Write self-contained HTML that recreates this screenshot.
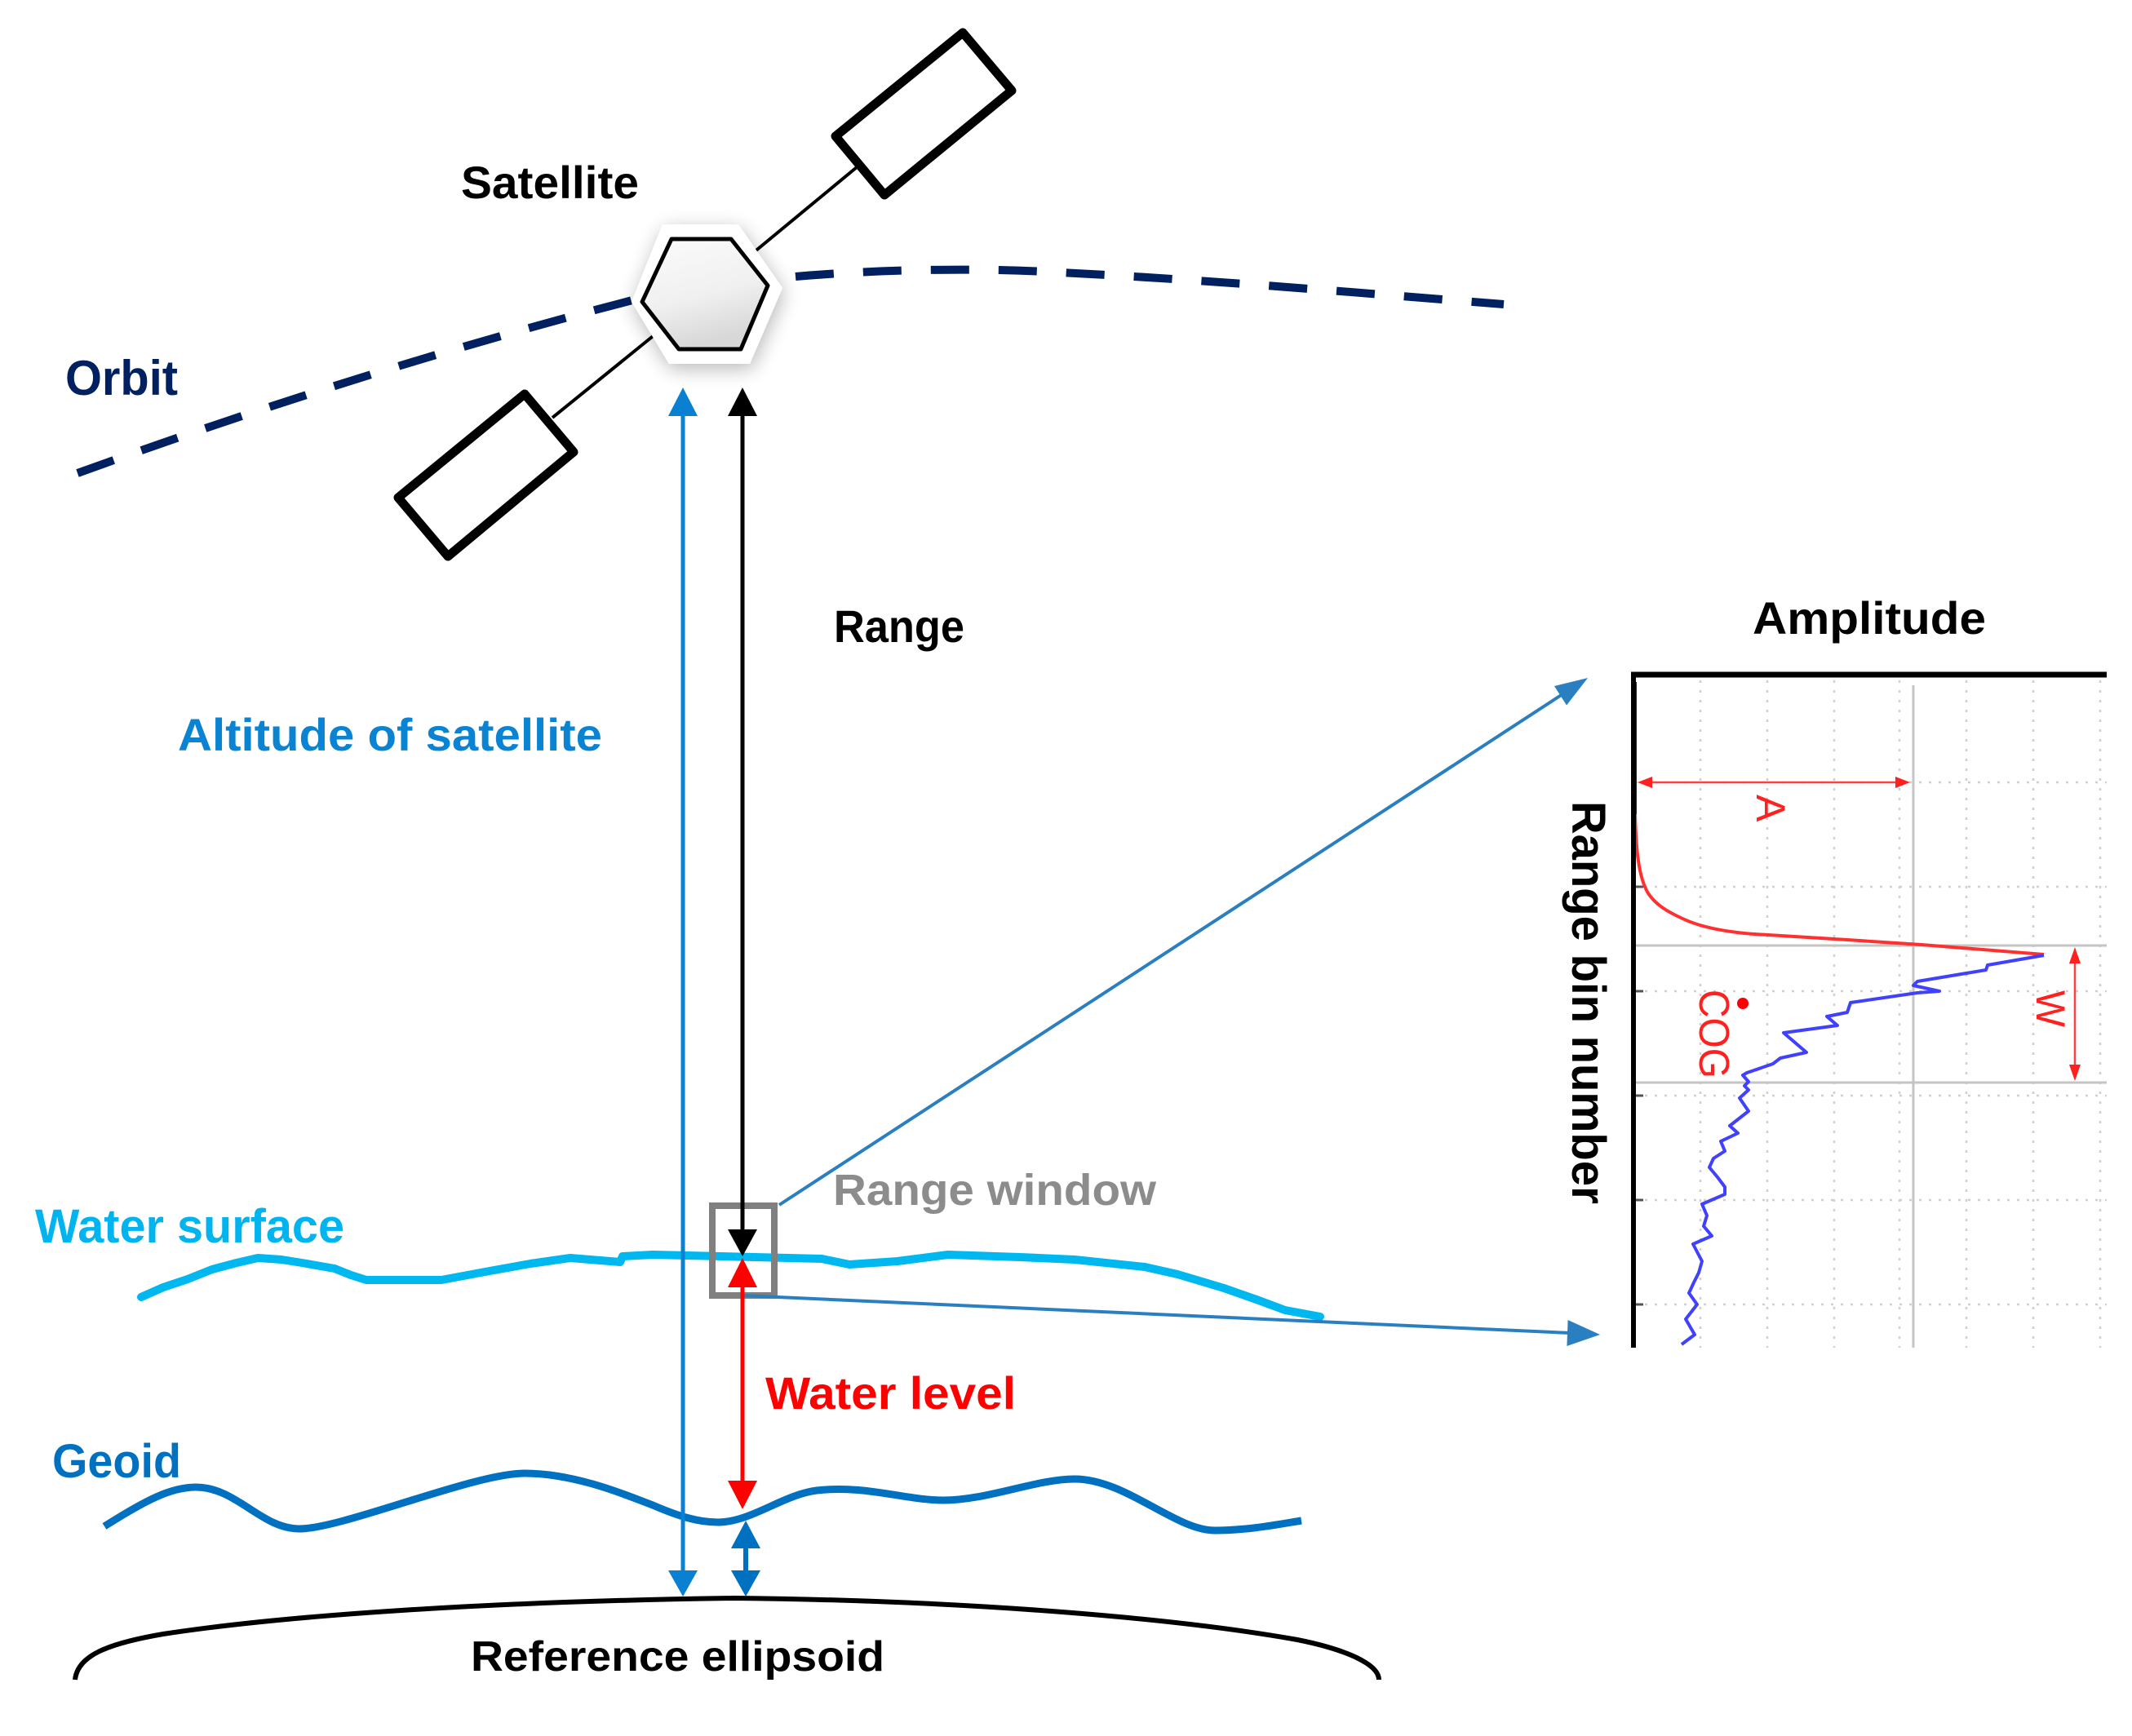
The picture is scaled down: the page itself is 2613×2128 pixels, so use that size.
<!DOCTYPE html>
<html>
<head>
<meta charset="utf-8">
<style>
  html, body { margin: 0; padding: 0; background: #ffffff; }
  svg { display: block; }
  text { font-family: "Liberation Sans", Arial, sans-serif; }
</style>
</head>
<body>
<svg width="2613" height="2128" viewBox="0 0 2613 2128" xmlns="http://www.w3.org/2000/svg">
  <defs>
    <filter id="halo" x="-40%" y="-40%" width="180%" height="180%">
      <feGaussianBlur in="SourceAlpha" stdDeviation="12"/>
      <feOffset dx="2" dy="6" result="b"/>
      <feComponentTransfer><feFuncA type="linear" slope="0.28"/></feComponentTransfer>
      <feMerge><feMergeNode/><feMergeNode in="SourceGraphic"/></feMerge>
    </filter>
    <linearGradient id="hexg" x1="0" y1="0" x2="0.3" y2="1">
      <stop offset="0" stop-color="#fbfbfb"/>
      <stop offset="0.6" stop-color="#f0f0f0"/>
      <stop offset="1" stop-color="#d8d8d8"/>
    </linearGradient>
    <clipPath id="chartclip"><rect x="2000" y="827" width="585" height="826"/></clipPath>
  </defs>

  <rect width="2613" height="2128" fill="#ffffff"/>

  <!-- Orbit dashed -->
  <path d="M95,580 Q440,455 775,368" fill="none" stroke="#002060" stroke-width="10" stroke-dasharray="47 36"/>
  <path d="M975,339 C1080,330 1200,328 1300,334 C1500,344 1700,362 1843,373" fill="none" stroke="#002060" stroke-width="10" stroke-dasharray="47 36"/>

  <!-- Satellite rods and panels -->
  <line x1="923" y1="310" x2="1050" y2="205" stroke="#000" stroke-width="4"/>
  <line x1="677" y1="512" x2="804" y2="409" stroke="#000" stroke-width="4"/>
  <polygon points="1180,40 1240,111 1084,239 1024,167" fill="#fff" stroke="#000" stroke-width="11" stroke-linejoin="round"/>
  <polygon points="643,483 703,554 549,682 488,610" fill="#fff" stroke="#000" stroke-width="11" stroke-linejoin="round"/>

  <!-- Satellite body -->
  <polygon points="812,275 905,275 959,353 919,446 820,446 774,370" fill="#ffffff" filter="url(#halo)"/>
  <polygon points="823,293 896,293 941,350 908,428 832,428 787,370" fill="url(#hexg)" stroke="#000" stroke-width="5" stroke-linejoin="round"/>

  <!-- Water surface -->
  <polyline points="173,1590 200,1578 230,1568 260,1556 290,1548 316,1542 345,1544 370,1548 410,1555 430,1563 449,1569 541,1569 600,1558 650,1549 699,1542 760,1547 763,1540 800,1538 1007,1543 1041,1550 1100,1546 1162,1538 1250,1541 1317,1544 1403,1553 1443,1562 1470,1570 1500,1579 1540,1593 1575,1606 1618,1614" fill="none" stroke="#00b8f0" stroke-width="10" stroke-linejoin="round" stroke-linecap="round"/>

  <!-- Geoid -->
  <path d="M128,1871 C180,1838 210,1823 240,1823 C290,1823 320,1874 367,1874 C420,1874 580,1806 643,1806 C710,1806 780,1838 800,1845 C830,1858 855,1866 880,1866 C920,1866 960,1832 1001,1827 C1060,1820 1110,1839 1156,1839 C1210,1839 1270,1813 1317,1813 C1380,1813 1440,1876 1489,1876 C1530,1876 1570,1868 1595,1864" fill="none" stroke="#0070c0" stroke-width="9" stroke-linecap="butt"/>

  <!-- Reference ellipsoid -->
  <path d="M92,2059 C95,2030 130,2015 200,2003 C350,1980 600,1963 900,1959 C1200,1962 1450,1985 1590,2010 C1650,2022 1690,2040 1690,2059" fill="none" stroke="#000" stroke-width="6"/>

  <!-- Range window box -->
  <rect x="873" y="1478" width="76" height="110" fill="none" stroke="#808080" stroke-width="8"/>

  <!-- Diagonal connectors -->
  <line x1="955" y1="1477" x2="1915" y2="851" stroke="#2a7fc0" stroke-width="4"/>
  <polygon points="1946,831 1920,864.5 1905,841" fill="#2a7fc0"/>
  <line x1="909" y1="1588" x2="1925" y2="1634" stroke="#2a7fc0" stroke-width="4"/>
  <polygon points="1961,1636 1920.4,1650 1921.6,1618" fill="#2a7fc0"/>

  <!-- Blue altitude arrow -->
  <line x1="837" y1="505" x2="837" y2="1930" stroke="#0a80d2" stroke-width="5"/>
  <polygon points="837,475 855,510 819,510" fill="#0a80d2"/>
  <polygon points="837,1957 855,1925 819,1925" fill="#0a80d2"/>

  <!-- Black range arrow -->
  <line x1="910" y1="505" x2="910" y2="1510" stroke="#000" stroke-width="5"/>
  <polygon points="910,475 928,510 892,510" fill="#000"/>
  <polygon points="910,1540 928,1507 892,1507" fill="#000"/>

  <!-- Red water level arrow -->
  <line x1="910" y1="1575" x2="910" y2="1820" stroke="#ff0000" stroke-width="5"/>
  <polygon points="910,1542 928,1578 892,1578" fill="#ff0000"/>
  <polygon points="910,1850 928,1815 892,1815" fill="#ff0000"/>

  <!-- Small blue geoid arrow -->
  <line x1="914" y1="1895" x2="914" y2="1930" stroke="#0070c0" stroke-width="6"/>
  <polygon points="914,1864 932,1898 896,1898" fill="#0070c0"/>
  <polygon points="914,1957 932,1925 896,1925" fill="#0070c0"/>

  <!-- Labels -->
  <text x="565" y="243" font-size="56" font-weight="bold" fill="#000" textLength="218" lengthAdjust="spacingAndGlyphs">Satellite</text>
  <text x="80" y="484" font-size="60" font-weight="bold" fill="#002060" textLength="138" lengthAdjust="spacingAndGlyphs">Orbit</text>
  <text x="1022" y="787" font-size="56" font-weight="bold" fill="#000" textLength="160" lengthAdjust="spacingAndGlyphs">Range</text>
  <text x="218" y="920" font-size="56" font-weight="bold" fill="#0a84d2" textLength="520" lengthAdjust="spacingAndGlyphs">Altitude of satellite</text>
  <text x="1021" y="1477" font-size="54" font-weight="bold" fill="#8c8c8c" textLength="396" lengthAdjust="spacingAndGlyphs">Range window</text>
  <text x="43" y="1523" font-size="58" font-weight="bold" fill="#00b4f0" textLength="379" lengthAdjust="spacingAndGlyphs">Water surface</text>
  <text x="938" y="1727" font-size="56" font-weight="bold" fill="#ff0000" textLength="307" lengthAdjust="spacingAndGlyphs">Water level</text>
  <text x="64" y="1811" font-size="58" font-weight="bold" fill="#0070c0" textLength="158" lengthAdjust="spacingAndGlyphs">Geoid</text>
  <text x="577" y="2048" font-size="52" font-weight="bold" fill="#000" textLength="507" lengthAdjust="spacingAndGlyphs">Reference ellipsoid</text>

  <!-- Chart -->
  <text x="2148" y="777" font-size="56" font-weight="bold" fill="#000" textLength="286" lengthAdjust="spacingAndGlyphs">Amplitude</text>

  <g clip-path="url(#chartclip)">
    <!-- dotted vertical grid -->
    <g stroke="#cfcfcf" stroke-width="2.5" stroke-dasharray="3 9">
      <line x1="2084" y1="834" x2="2084" y2="1652"/>
      <line x1="2166" y1="834" x2="2166" y2="1652"/>
      <line x1="2248" y1="834" x2="2248" y2="1652"/>
      <line x1="2328" y1="834" x2="2328" y2="1652"/>
      <line x1="2410" y1="834" x2="2410" y2="1652"/>
      <line x1="2492" y1="834" x2="2492" y2="1652"/>
      <line x1="2574" y1="834" x2="2574" y2="1652"/>
    </g>
    <!-- dotted horizontal grid -->
    <g stroke="#cfcfcf" stroke-width="2.5" stroke-dasharray="3 9">
      <line x1="2004" y1="959" x2="2582" y2="959"/>
      <line x1="2004" y1="1087" x2="2582" y2="1087"/>
      <line x1="2004" y1="1215" x2="2582" y2="1215"/>
      <line x1="2004" y1="1343" x2="2582" y2="1343"/>
      <line x1="2004" y1="1471" x2="2582" y2="1471"/>
      <line x1="2004" y1="1599" x2="2582" y2="1599"/>
    </g>
    <!-- solid grey lines -->
    <line x1="2345" y1="840" x2="2345" y2="1652" stroke="#c4c4c4" stroke-width="3"/>
    <line x1="2004" y1="1159" x2="2582" y2="1159" stroke="#c4c4c4" stroke-width="3"/>
    <line x1="2004" y1="1327" x2="2582" y2="1327" stroke="#c4c4c4" stroke-width="3"/>
    <!-- ticks -->
    <g stroke="#555" stroke-width="3">
      <line x1="2002" y1="1087" x2="2014" y2="1087"/>
      <line x1="2002" y1="1215" x2="2014" y2="1215"/>
      <line x1="2002" y1="1343" x2="2014" y2="1343"/>
      <line x1="2002" y1="1471" x2="2014" y2="1471"/>
      <line x1="2002" y1="1599" x2="2014" y2="1599"/>
    </g>

    <!-- red leading edge -->
    <path d="M2004,998 C2005,1040 2008,1075 2020,1095 C2030,1110 2045,1118 2060,1125 C2080,1135 2110,1142 2150,1145 L2264,1152 L2355,1158 L2505,1170" fill="none" stroke="#ff3030" stroke-width="4"/>
    <!-- blue top -->
    <line x1="2004" y1="836" x2="2004" y2="998" stroke="#1010d0" stroke-width="4"/>
    <!-- blue trailing edge -->
    <polyline points="2505,1171 2436,1183 2434,1189 2350,1203 2345,1208 2377,1215 2350,1217 2268,1229 2264,1241 2239,1246 2252,1257 2186,1266 2214,1290 2182,1297 2173,1304 2141,1315 2136,1318 2143,1326 2138,1331 2143,1336 2132,1346 2143,1362 2120,1380 2130,1389 2109,1399 2114,1411 2100,1420 2095,1431 2105,1443 2114,1455 2114,1464 2086,1476 2092,1490 2088,1503 2098,1515 2075,1525 2086,1546 2082,1560 2076,1572 2070,1585 2080,1599 2066,1617 2077,1636 2061,1648" fill="none" stroke="#4040ff" stroke-width="4" stroke-linejoin="round"/>

    <!-- A arrow -->
    <line x1="2020" y1="959" x2="2328" y2="959" stroke="#ff4040" stroke-width="2.5"/>
    <polygon points="2007,959 2025,952 2025,966" fill="#ff2020"/>
    <polygon points="2341,959 2323,952 2323,966" fill="#ff2020"/>
    <!-- W arrow -->
    <line x1="2543" y1="1175" x2="2543" y2="1311" stroke="#ff4040" stroke-width="2.5"/>
    <polygon points="2543,1161 2536,1181 2550,1181" fill="#ff2020"/>
    <polygon points="2543,1325 2536,1305 2550,1305" fill="#ff2020"/>
    <!-- COG dot -->
    <circle cx="2136" cy="1230" r="7" fill="#ff0000"/>
  </g>

  <!-- axes -->
  <line x1="1999" y1="827" x2="2582" y2="827" stroke="#000" stroke-width="7"/>
  <line x1="2002" y1="824" x2="2002" y2="1652" stroke="#000" stroke-width="6"/>

  <!-- rotated chart texts -->
  <text x="1927" y="982" font-size="58" font-weight="bold" fill="#000" transform="rotate(90 1927 982)" textLength="494" lengthAdjust="spacingAndGlyphs">Range bin number</text>
  <text x="2153" y="974" font-size="50" fill="#ff2020" transform="rotate(90 2153 974)">A</text>
  <text x="2083" y="1213" font-size="52" fill="#ff2020" transform="rotate(90 2083 1213)" textLength="109" lengthAdjust="spacingAndGlyphs">COG</text>
  <text x="2496" y="1214" font-size="50" fill="#ff2020" transform="rotate(90 2496 1214)" textLength="45" lengthAdjust="spacingAndGlyphs">W</text>
</svg>
</body>
</html>
